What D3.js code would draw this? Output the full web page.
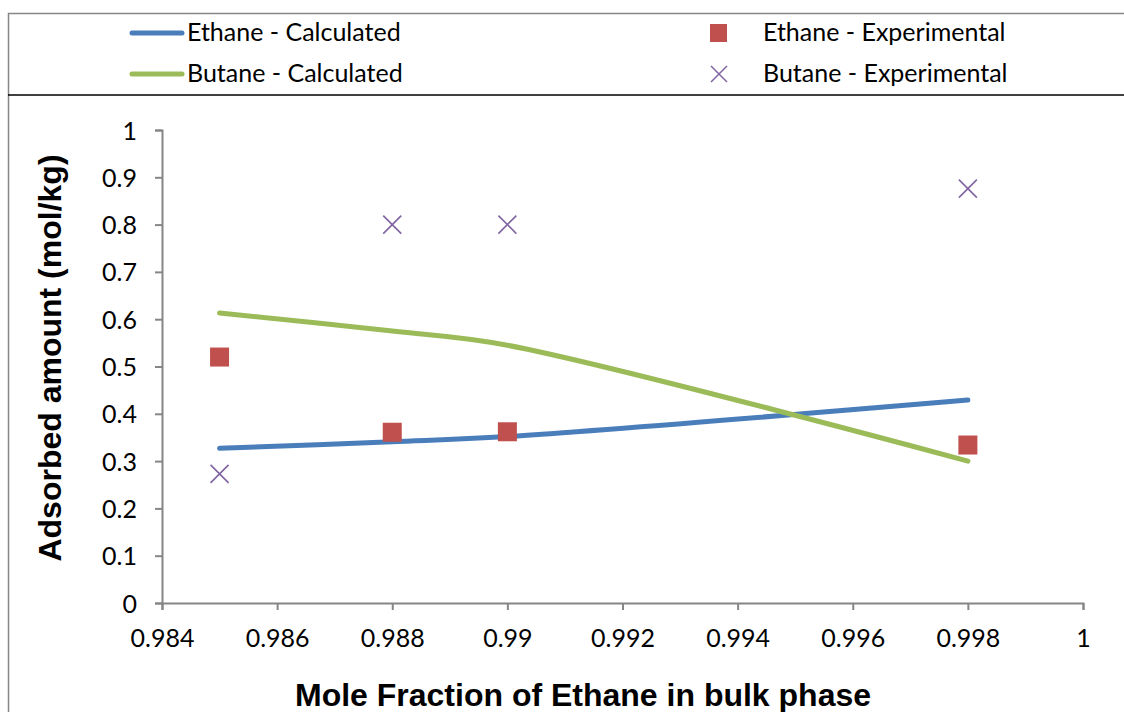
<!DOCTYPE html>
<html>
<head>
<meta charset="utf-8">
<script src="https://cdn.jsdelivr.net/npm/d3@7"></script>
<style>
  body { margin: 0; background: #fff; }
  svg text { font-family: Lato, "Open Sans", sans-serif; }
</style>
</head>
<body>
<div id="chart"></div>
<script>
// data
var xValues = [0.985, 0.988, 0.99, 0.998];
var ethaneCalc = [0.327, 0.341, 0.352, 0.429];
var butaneCalc = [0.613, 0.575, 0.545, 0.300];
var ethaneExp = [0.520, 0.361, 0.362, 0.334];
var butaneExp = [0.273, 0.800, 0.800, 0.876];
var xTicks = [0.984, 0.986, 0.988, 0.99, 0.992, 0.994, 0.996, 0.998, 1];
var yTicks = [0, 0.1, 0.2, 0.3, 0.4, 0.5, 0.6, 0.7, 0.8, 0.9, 1];

var width = 1124, height = 712;
var colors = { ethaneCalc: "#4a7ebb", butaneCalc: "#9bbb59", ethaneExp: "#c0504d", butaneExp: "#8064a2" };
var labelSize = 25;

var svg = d3.select("#chart").append("svg")
    .attr("width", width).attr("height", height);

// frame and legend separator
svg.append("rect")
    .attr("x", 8.5).attr("y", 13.5)
    .attr("width", 1130).attr("height", 720)
    .attr("fill", "none").attr("stroke", "#868686").attr("stroke-width", 1.5);
svg.append("line")
    .attr("x1", 8).attr("x2", width).attr("y1", 95).attr("y2", 95)
    .attr("stroke", "#000").attr("stroke-width", 1.5);

// scales
var x = d3.scaleLinear().domain([0.984, 1]).range([162, 1083]);
var y = d3.scaleLinear().domain([0, 1]).range([603, 130]);

// axes
var axisColor = "#868686";
var gx = svg.append("g")
    .attr("transform", "translate(0,603)")
    .call(d3.axisBottom(x).tickValues(xTicks).tickSize(7).tickPadding(19)
        .tickFormat(function (d) { return d === 1 ? "1" : d3.format(".3~f")(d); }));
var gy = svg.append("g")
    .attr("transform", "translate(162,0)")
    .call(d3.axisLeft(y).tickValues(yTicks).tickSize(7).tickPadding(18)
        .tickFormat(function (d) { return d3.format(".1~f")(d); }));

[gx, gy].forEach(function (g) {
    g.attr("font-size", labelSize).attr("font-family", "Lato, 'Open Sans', sans-serif");
    g.select(".domain").attr("stroke", axisColor).attr("stroke-width", 2);
    g.selectAll(".tick line").attr("stroke", axisColor).attr("stroke-width", 2);
    g.selectAll(".tick text").attr("fill", "#000");
});
gx.selectAll(".tick text").attr("dy", "0.71em");
gy.selectAll(".tick text").attr("dy", "0.36em");

// smoothed lines
var line = function (vals) {
    return d3.line()
        .x(function (d, i) { return x(xValues[i]); })
        .y(function (d) { return y(d); })
        .curve(d3.curveCatmullRom.alpha(0.5))(vals);
};
svg.append("path").attr("d", line(ethaneCalc))
    .attr("fill", "none").attr("stroke", colors.ethaneCalc)
    .attr("stroke-width", 5).attr("stroke-linecap", "round");
svg.append("path").attr("d", line(butaneCalc))
    .attr("fill", "none").attr("stroke", colors.butaneCalc)
    .attr("stroke-width", 5).attr("stroke-linecap", "round");

// experimental markers
var sq = 19;
svg.append("g").selectAll("rect")
    .data(ethaneExp).enter().append("rect")
    .attr("x", function (d, i) { return x(xValues[i]) - sq / 2; })
    .attr("y", function (d) { return y(d) - sq / 2; })
    .attr("width", sq).attr("height", sq)
    .attr("fill", colors.ethaneExp);

var cr = 9;
svg.append("g").selectAll("path")
    .data(butaneExp).enter().append("path")
    .attr("d", function (d, i) {
        var cx = x(xValues[i]), cy = y(d);
        return "M" + (cx - cr) + "," + (cy - cr) + "L" + (cx + cr) + "," + (cy + cr) +
            "M" + (cx - cr) + "," + (cy + cr) + "L" + (cx + cr) + "," + (cy - cr);
    })
    .attr("stroke", colors.butaneExp).attr("stroke-width", 1.6).attr("fill", "none");

// axis titles
svg.append("text")
    .attr("x", 583).attr("y", 706)
    .attr("text-anchor", "middle")
    .attr("font-size", 32).attr("font-weight", "bold")
    .style("font-family", "'Liberation Sans', Arial, sans-serif")
    .text("Mole Fraction of Ethane in bulk phase");
svg.append("text")
    .attr("transform", "translate(61,358) rotate(-90)")
    .attr("text-anchor", "middle")
    .attr("font-size", 32).attr("font-weight", "bold")
    .style("font-family", "'Liberation Sans', Arial, sans-serif")
    .text("Adsorbed amount (mol/kg)");

// legend
var legend = svg.append("g").attr("font-size", labelSize);
legend.append("line").attr("x1", 132).attr("x2", 182).attr("y1", 33).attr("y2", 33)
    .attr("stroke", colors.ethaneCalc).attr("stroke-width", 5).attr("stroke-linecap", "round");
legend.append("text").attr("x", 187).attr("y", 41).text("Ethane - Calculated");
legend.append("line").attr("x1", 132).attr("x2", 182).attr("y1", 74).attr("y2", 74)
    .attr("stroke", colors.butaneCalc).attr("stroke-width", 5).attr("stroke-linecap", "round");
legend.append("text").attr("x", 187).attr("y", 82).text("Butane - Calculated");

legend.append("rect").attr("x", 710).attr("y", 24).attr("width", 17).attr("height", 18)
    .attr("fill", colors.ethaneExp);
legend.append("path")
    .attr("d", "M711,66L727,82M711,82L727,66")
    .attr("stroke", colors.butaneExp).attr("stroke-width", 1.5);
legend.append("text").attr("x", 763).attr("y", 41).text("Ethane - Experimental");
legend.append("text").attr("x", 763).attr("y", 82).text("Butane - Experimental");
</script>
</body>
</html>
